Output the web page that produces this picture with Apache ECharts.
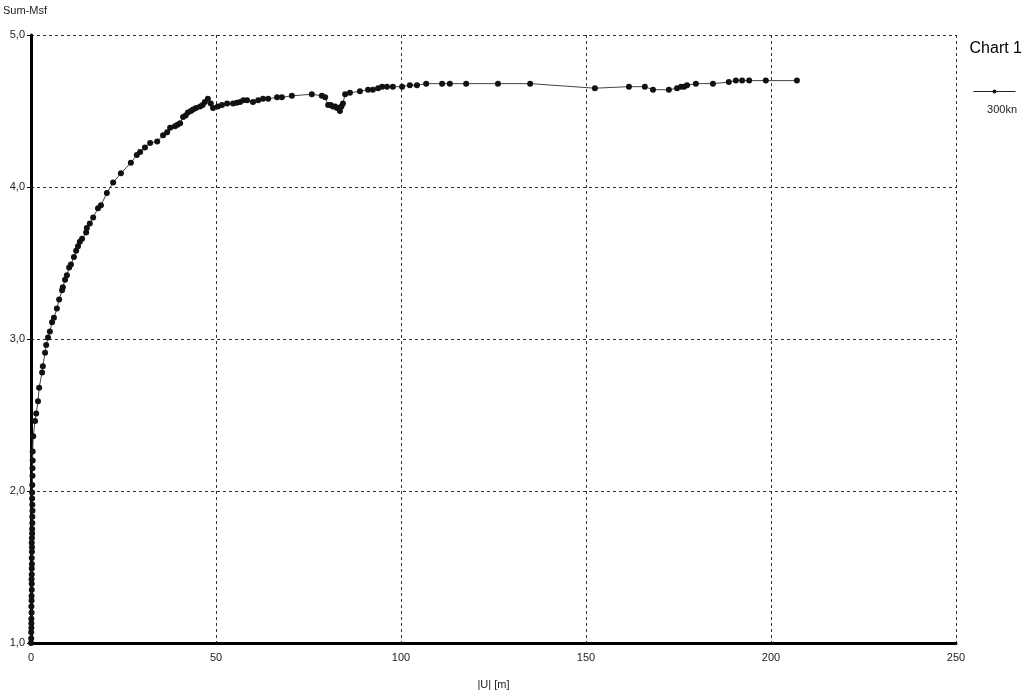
<!DOCTYPE html>
<html>
<head>
<meta charset="utf-8">
<script src="https://cdn.jsdelivr.net/npm/echarts@6/dist/echarts.min.js"></script>
<style>
  html, body { margin: 0; padding: 0; background: #fff; }
  #chart { width: 1029px; height: 695px; }
</style>
</head>
<body>
<div id="chart"></div>
<script>
// |U| [m] values
var uValues = [
  0.00, 0.05, 0.05, 0.10, 0.10, 0.10, 0.15, 0.10, 0.15, 0.15,
  0.20, 0.20, 0.15, 0.20, 0.20, 0.25, 0.20, 0.25, 0.25, 0.20,
  0.25, 0.30, 0.30, 0.35, 0.35, 0.40, 0.35, 0.30, 0.30, 0.35,
  0.40, 0.40, 0.45, 0.45, 0.6, 1.1, 1.4, 1.9, 2.2, 3.0,
  3.2, 3.8, 4.1, 4.6, 5.1, 5.7, 6.2, 7.0, 7.6, 8.4,
  8.6, 9.2, 9.7, 10.3, 10.8, 11.6, 12.2, 12.7, 13.2, 13.8,
  14.9, 15.1, 15.9, 16.8, 18.1, 18.9, 20.5, 22.2, 24.3, 27.0,
  28.6, 29.5, 30.8, 32.2, 34.1, 35.7, 36.8, 37.6, 38.9, 39.6,
  40.3, 41.1, 41.8, 42.4, 43.2, 43.8, 44.6, 45.7, 46.4, 47.0,
  47.8, 48.6, 49.2, 50.5, 51.6, 53.0, 54.6, 55.6, 56.5, 57.4,
  58.4, 60.0, 61.4, 62.7, 64.1, 66.5, 67.8, 70.5, 75.9, 78.6,
  79.5, 80.3, 81.0, 81.6, 82.2, 82.7, 83.2, 83.5, 83.9, 84.3,
  84.9, 86.2, 88.9, 91.1, 92.4, 93.8, 94.9, 96.2, 97.8, 100.3,
  102.4, 104.3, 106.8, 111.1, 113.2, 117.6, 126.2, 134.9, 152.4, 161.6,
  165.9, 168.1, 172.4, 174.6, 175.7, 176.5, 177.3, 179.7, 184.3, 188.6,
  190.5, 192.2, 194.1, 198.6, 207.0
];

// Sum-Msf values
var msfValues = [
  1.00, 1.03, 1.07, 1.10, 1.13, 1.16, 1.20, 1.24, 1.28, 1.31,
  1.35, 1.39, 1.42, 1.45, 1.49, 1.52, 1.56, 1.60, 1.63, 1.66,
  1.69, 1.72, 1.75, 1.79, 1.83, 1.87, 1.91, 1.95, 1.99, 2.04,
  2.10, 2.15, 2.20, 2.26, 2.36, 2.46, 2.51, 2.59, 2.68, 2.78,
  2.82, 2.91, 2.96, 3.01, 3.05, 3.11, 3.14, 3.20, 3.26, 3.32,
  3.34, 3.39, 3.42, 3.47, 3.49, 3.54, 3.58, 3.61, 3.64, 3.66,
  3.70, 3.73, 3.76, 3.80, 3.86, 3.88, 3.96, 4.03, 4.09, 4.16,
  4.21, 4.23, 4.26, 4.29, 4.30, 4.34, 4.36, 4.39, 4.40, 4.41,
  4.42, 4.46, 4.47, 4.49, 4.50, 4.51, 4.52, 4.53, 4.54, 4.56,
  4.58, 4.55, 4.52, 4.53, 4.54, 4.55, 4.55, 4.555, 4.56, 4.57,
  4.57, 4.56, 4.57, 4.58, 4.58, 4.59, 4.59, 4.60, 4.61, 4.60,
  4.59, 4.54, 4.54, 4.53, 4.53, 4.52, 4.52, 4.50, 4.53, 4.55,
  4.61, 4.62, 4.63, 4.64, 4.64, 4.65, 4.66, 4.66, 4.66, 4.66,
  4.67, 4.67, 4.68, 4.68, 4.68, 4.68, 4.68, 4.68, 4.65, 4.66,
  4.66, 4.64, 4.64, 4.65, 4.66, 4.66, 4.67, 4.68, 4.68, 4.69,
  4.70, 4.70, 4.70, 4.70, 4.70
];

var yTicks = ['1,0', '2,0', '3,0', '4,0', '5,0'];
var seriesName = '300kn';

var points = [];
for (var i = 0; i < uValues.length; i++) {
  points.push([uValues[i], msfValues[i]]);
}

var chart = echarts.init(document.getElementById('chart'));

var gridDash = {
  color: '#333',
  width: 1,
  type: [3, 3]
};

var option = {
  animation: false,
  backgroundColor: '#fff',
  textStyle: { fontFamily: 'Liberation Sans, Arial, sans-serif' },
  title: {
    text: 'Chart 1',
    right: 2,
    top: 36,
    textStyle: { fontSize: 16, fontWeight: 'normal', color: '#000' }
  },
  // legend only draws the line + dot sample, label goes underneath
  legend: {
    right: 8,
    top: 84,
    itemWidth: 42,
    itemHeight: 5,
    itemGap: 0,
    formatter: function () { return ''; },
    data: [seriesName],
    selectedMode: false,
    itemStyle: { color: '#111' },
    lineStyle: { color: '#222', width: 1 }
  },
  graphic: [{
    type: 'text',
    right: 12,
    top: 104,
    style: { text: seriesName, fill: '#222', fontSize: 11, fontFamily: 'Liberation Sans, Arial' }
  }],
  grid: {
    left: 31,
    right: 73,
    top: 35,
    bottom: 52,
    containLabel: false
  },
  xAxis: {
    type: 'value',
    min: 0,
    max: 250,
    interval: 50,
    name: '|U| [m]',
    nameLocation: 'middle',
    nameGap: 36,
    nameTextStyle: { fontSize: 11, color: '#222' },
    axisLine: { onZero: false, lineStyle: { color: '#000', width: 3 } },
    axisTick: { show: false },
    axisLabel: { fontSize: 11, color: '#222', margin: 9 },
    splitLine: { show: true, lineStyle: gridDash }
  },
  yAxis: {
    type: 'value',
    min: 1,
    max: 5,
    interval: 1,
    name: 'Sum-Msf',
    nameLocation: 'end',
    nameGap: 19,
    nameTextStyle: { fontSize: 11, color: '#222', align: 'center', padding: [0, 12, 0, 0] },
    axisLine: { show: true, onZero: false, lineStyle: { color: '#000', width: 3 } },
    axisTick: { show: true, length: 4, lineStyle: { color: '#000' } },
    axisLabel: {
      fontSize: 11,
      color: '#222',
      margin: 6,
      formatter: function (v) { return yTicks[Math.round(v) - 1]; }
    },
    splitLine: { show: true, lineStyle: gridDash }
  },
  series: [{
    name: seriesName,
    type: 'line',
    data: points,
    symbol: 'circle',
    symbolSize: 6,
    showSymbol: true,
    itemStyle: { color: '#111' },
    lineStyle: { color: '#444', width: 1 }
  }]
};

chart.setOption(option);
</script>
</body>
</html>
